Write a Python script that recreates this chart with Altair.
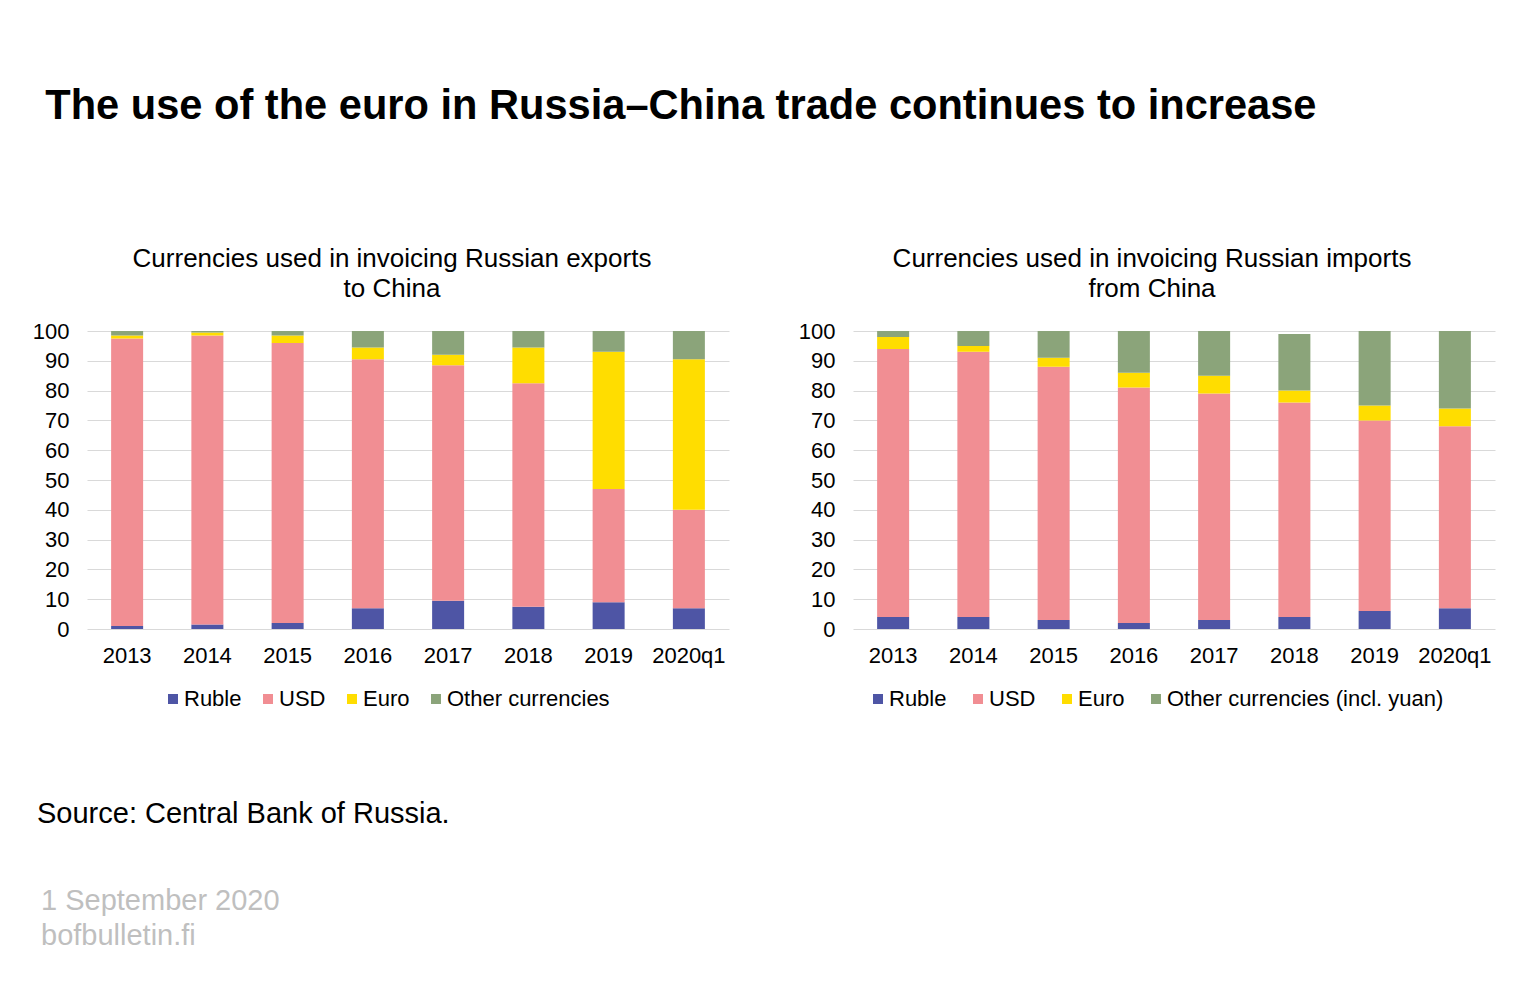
import altair as alt
import pandas as pd

periods = ["2013", "2014", "2015", "2016", "2017", "2018", "2019", "2020q1"]

# Exports to China (share, %)
exp_ruble = [1, 1.5, 2, 7, 9.5, 7.5, 9, 7]
exp_usd = [96.5, 97, 94, 83.5, 79, 75, 38, 33]
exp_euro = [1, 1, 2.5, 4, 3.5, 12, 46, 50.5]
exp_other = [1.5, 0.5, 1.5, 5.5, 8, 5.5, 7, 9.5]

# Imports from China (share, %)
imp_ruble = [4, 4, 3, 2, 3, 4, 6, 7]
imp_usd = [90, 89, 85, 79, 76, 72, 64, 61]
imp_euro = [4, 2, 3, 5, 6, 4, 5, 6]
imp_other = [2, 5, 9, 14, 15, 19, 25, 26]

exp_series = ["Ruble", "USD", "Euro", "Other currencies"]
imp_series = ["Ruble", "USD", "Euro", "Other currencies (incl. yuan)"]
colors = ["#4E55A5", "#F18E93", "#FFDD00", "#8BA47A"]

FONT = "Liberation Sans"


def long_df(series, values):
    rows = []
    for si, (s, vals) in enumerate(zip(series, values)):
        for p, v in zip(periods, vals):
            rows.append({"period": p, "series": s, "value": v, "order": si})
    return pd.DataFrame(rows)


def panel(df, series, title_lines, title_dx, legend_x, label_offset, col_pad):
    return alt.Chart(df, title=alt.TitleParams(
        title_lines, fontSize=26, font=FONT, fontWeight="normal", color="black",
        anchor="middle", offset=18, lineHeight=30, dx=title_dx)).mark_bar(size=32).encode(
        x=alt.X("period:N", sort=periods, title=None,
                axis=alt.Axis(labelAngle=0, labelFontSize=22, labelFont=FONT,
                              labelColor="black", ticks=False, domain=False,
                              labelPadding=16)),
        y=alt.Y("value:Q", title=None, stack="zero",
                scale=alt.Scale(domain=[0, 100], nice=False),
                axis=alt.Axis(values=list(range(0, 101, 10)), labelFontSize=22,
                              labelFont=FONT, labelColor="black", ticks=False,
                              domain=False, gridColor="#d9d9d9", labelPadding=18)),
        color=alt.Color("series:N", sort=series,
                        scale=alt.Scale(domain=series, range=colors),
                        legend=alt.Legend(title=None, orient="none", legendX=legend_x, legendY=357,
                                          direction="horizontal", columns=4,
                                          symbolType="square", symbolSize=100,
                                          symbolStrokeWidth=0, labelFontSize=22, labelFont=FONT,
                                          labelColor="black", columnPadding=col_pad, labelLimit=400,
                                          symbolOffset=0, labelOffset=label_offset)),
        order=alt.Order("order:Q", sort="ascending"),
    ).properties(width=642, height=298)


left = panel(long_df(exp_series, [exp_ruble, exp_usd, exp_euro, exp_other]), exp_series,
             ["Currencies used in invoicing Russian exports", "to China"], -16, 75, 0, 15)
right = panel(long_df(imp_series, [imp_ruble, imp_usd, imp_euro, imp_other]), imp_series,
              ["Currencies used in invoicing Russian imports", "from China"], -22, 14, 0, 20)

top = alt.hconcat(left, right, spacing=69).resolve_scale(color="independent")

footer_df = pd.DataFrame({
    "label": ["Source: Central Bank of Russia.", "1 September 2020", "bofbulletin.fi"],
    "kind": ["source", "date", "site"],
})

footer_source = alt.Chart(footer_df[footer_df.kind == "source"]).mark_text(
    align="left", baseline="middle", fontSize=29, font=FONT, color="black").encode(
    text="label:N", x=alt.value(-50), y=alt.value(74))
footer_date = alt.Chart(footer_df[footer_df.kind == "date"]).mark_text(
    align="left", baseline="middle", fontSize=29, font=FONT, color="#BFBFBF").encode(
    text="label:N", x=alt.value(-46), y=alt.value(161))
footer_site = alt.Chart(footer_df[footer_df.kind == "site"]).mark_text(
    align="left", baseline="middle", fontSize=29, font=FONT, color="#BFBFBF").encode(
    text="label:N", x=alt.value(-46), y=alt.value(196))

footer = alt.layer(footer_source, footer_date, footer_site).properties(width=700, height=200)

chart = alt.vconcat(top, footer, spacing=30).properties(
    title=alt.TitleParams("The use of the euro in Russia\u2013China trade continues to increase",
                          fontSize=41.6, font=FONT, fontWeight="bold", color="black",
                          anchor="start", offset=118, dx=13),
    padding={"left": 24, "top": 78, "right": 10, "bottom": 10},
    background="white",
).configure_view(strokeWidth=0, stroke="transparent")

chart.save("out.html", embed_options={"renderer": "svg", "actions": False})
